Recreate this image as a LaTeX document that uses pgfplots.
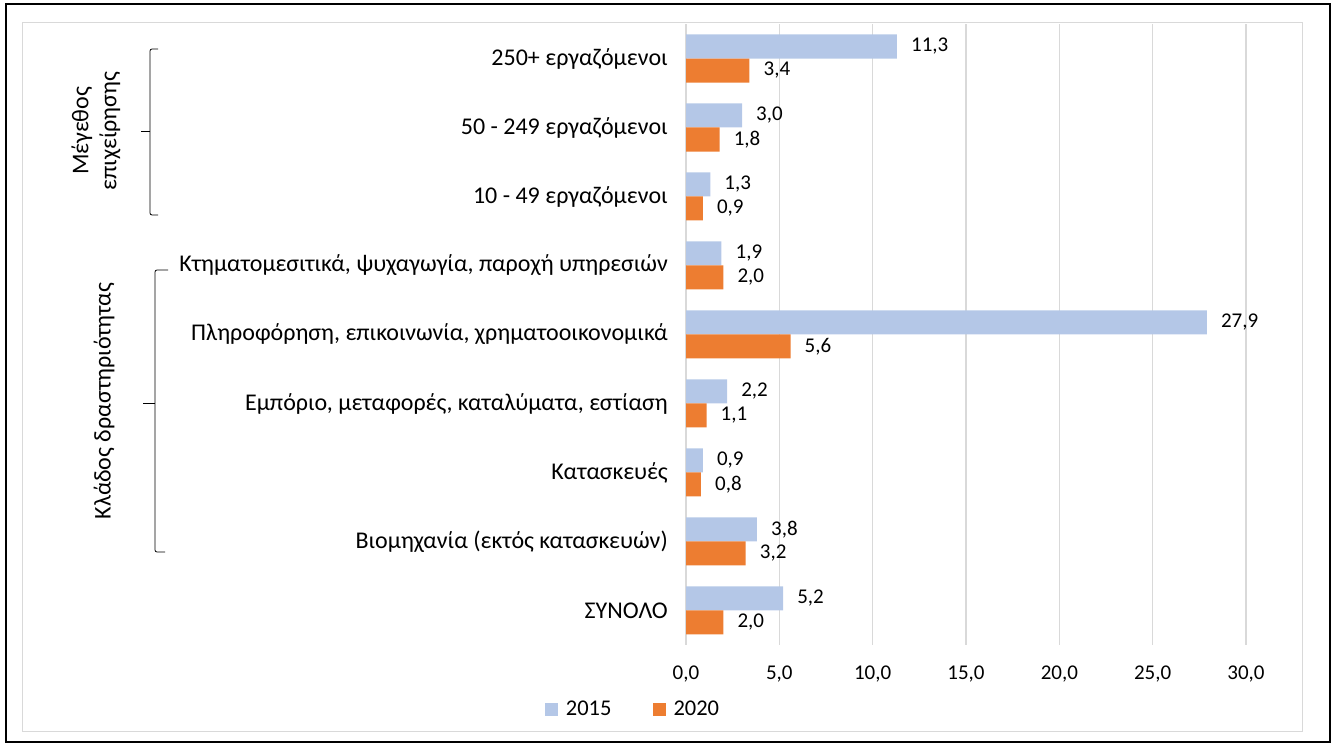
\documentclass[border=0pt]{standalone}
\usepackage{fontspec}
\setmainfont{Carlito}
\usepackage{pgfplots}
\pgfplotsset{compat=1.18}
\definecolor{c15}{HTML}{B4C7E7}
\definecolor{c20}{HTML}{ED7D31}
\definecolor{gridc}{HTML}{D9D9D9}
\begin{document}
\fontsize{21}{25}\selectfont
\begin{tikzpicture}
\useasboundingbox (0pt,0pt) rectangle (1335pt,746pt);
\draw[line width=2pt] (6pt,4pt) rectangle (1330pt,742pt);
\draw[gridc, line width=1pt] (22pt,14pt) rectangle (1302pt,723pt);
% brackets
\draw[line width=0.8pt, rounded corners=2pt] (158pt,697pt) -- (150pt,697pt) -- (150pt,531pt) -- (158pt,531pt);
\draw[line width=0.8pt] (150pt,615pt) -- (141pt,615pt);
\node[rotate=90, align=center, inner sep=0pt, font=\fontsize{24}{28}\selectfont] at (96pt,615pt) {Μέγεθος\\επιχείρησης};
\draw[line width=0.8pt, rounded corners=2pt] (168pt,476pt) -- (155pt,476pt) -- (155pt,194pt) -- (165pt,194pt);
\draw[line width=0.8pt] (155pt,343pt) -- (143pt,343pt);
\node[rotate=90, inner sep=0pt, font=\fontsize{24}{28}\selectfont] at (104pt,345pt) {Κλάδος δραστηριότητας};
\begin{axis}[
  at={(686pt,101pt)}, anchor=south west, scale only axis,
  width=560pt, height=621pt,
  xmin=0, xmax=30, ymin=-0.5, ymax=8.5,
  xbar, bar width=24pt,
  xtick={0,5,...,30}, ytick={0,...,8},
  yticklabels={ΣΥΝΟΛΟ, Βιομηχανία (εκτός κατασκευών), Κατασκευές, {Εμπόριο, μεταφορές, καταλύματα, εστίαση}, {Πληροφόρηση, επικοινωνία, χρηματοοικονομικά}, {Κτηματομεσιτικά, ψυχαγωγία, παροχή υπηρεσιών}, 10 - 49 εργαζόμενοι, 50 - 249 εργαζόμενοι, 250+ εργαζόμενοι},
  axis line style={draw=none}, major tick length=0pt,
  xmajorgrids, grid style={gridc, line width=1.5pt},
  yticklabel style={inner sep=0pt, anchor=east, xshift=-18pt, font=\fontsize{24}{28}\selectfont},
  xticklabel style={inner sep=0pt, anchor=center, yshift=-29pt, font=\fontsize{21}{25}\selectfont},
  /pgf/number format/.cd, use comma, fixed, fixed zerofill, precision=1, assume math mode=true, /pgfplots/.cd,
  nodes near coords,
  every node near coord/.append style={anchor=west, inner sep=0pt, xshift=14pt, text=black, font=\fontsize{21}{25}\selectfont},
  legend style={at={(-0.0964,-0.104)}, anchor=center, draw=none, fill=none, legend columns=2,
    /tikz/every odd column/.append style={column sep=8pt},
    /tikz/every even column/.append style={column sep=41pt}, inner sep=0pt,
    font=\fontsize{22.5}{26}\selectfont,
    nodes={inner sep=0pt, anchor=west}},
  legend image code/.code={\fill[#1] (0pt,-6.5pt) rectangle (13pt,6.5pt);},
]
\addplot[fill=c15, draw=none, bar shift=12pt] coordinates {
 (5.2,0) (3.8,1) (0.9,2) (2.2,3) (27.9,4) (1.9,5) (1.3,6) (3.0,7) (11.3,8)};
\addplot[fill=c20, draw=none, bar shift=-12pt] coordinates {
 (2.0,0) (3.2,1) (0.8,2) (1.1,3) (5.6,4) (2.0,5) (0.9,6) (1.8,7) (3.4,8)};
\legend{2015,2020}
\end{axis}
\end{tikzpicture}
\end{document}
